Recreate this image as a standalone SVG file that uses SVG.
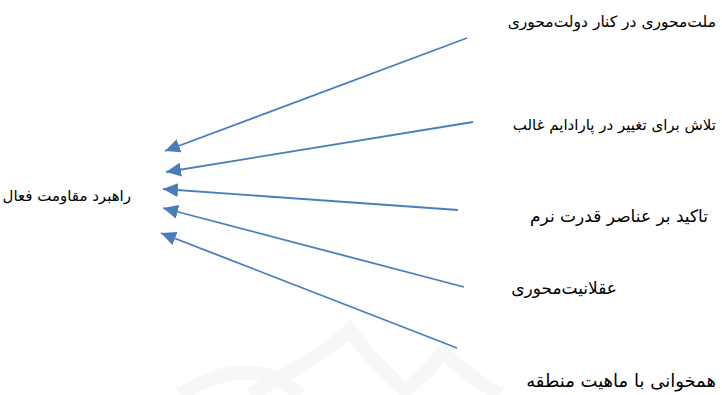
<svg xmlns="http://www.w3.org/2000/svg" width="722" height="395" viewBox="0 0 722 395">
<style>
.t{font-family:"DejaVu Sans","Noto Sans",sans-serif;font-size:16px;fill:#000;direction:rtl;text-anchor:start}
.c{stroke:#4a7ebb;stroke-width:1.8;fill:none;marker-end:url(#ah)}
.wm{fill:none;stroke:#f7f7f7;stroke-width:14}
</style>
<defs>
<marker id="ah" markerUnits="userSpaceOnUse" markerWidth="16" markerHeight="14" refX="15" refY="7" orient="auto">
<path d="M0,0 L15,7 L0,14 Z" fill="#4a7ebb"/>
</marker>
</defs>
<rect width="722" height="395" fill="#fff"/>
<g id="watermark">
<path class="wm" d="M180,395 Q250,350 300,395 M250,395 Q330,350 350,330 Q370,360 410,395 M400,395 Q430,370 443,352 Q460,370 500,395"/>
</g>
<g id="connectors">
<line class="c" x1="467" y1="38" x2="165" y2="151"/>
<line class="c" x1="473" y1="122" x2="166" y2="172"/>
<line class="c" x1="458" y1="210" x2="163" y2="189"/>
<line class="c" x1="464" y1="287" x2="163" y2="208"/>
<line class="c" x1="457" y1="348" x2="161" y2="233"/>
</g>
<g id="n0"><text class="t" x="131" y="201" style="font-size:15px">راهبرد مقاومت فعال</text></g>
<g id="n1"><text class="t" x="716" y="27" style="font-size:15.5px">ملت‌محوری در کنار دولت‌محوری</text></g>
<g id="n2"><text class="t" x="716" y="130" style="font-size:15px">تلاش برای تغییر در پارادایم غالب</text></g>
<g id="n3"><text class="t" x="708" y="222" style="font-size:17px">تاکید بر عناصر قدرت نرم</text></g>
<g id="n4"><text class="t" x="617" y="294" style="font-size:17px">عقلانیت‌محوری</text></g>
<g id="n5"><text class="t" x="716" y="387" style="font-size:18px">همخوانی با ماهیت منطقه</text></g>
</svg>
